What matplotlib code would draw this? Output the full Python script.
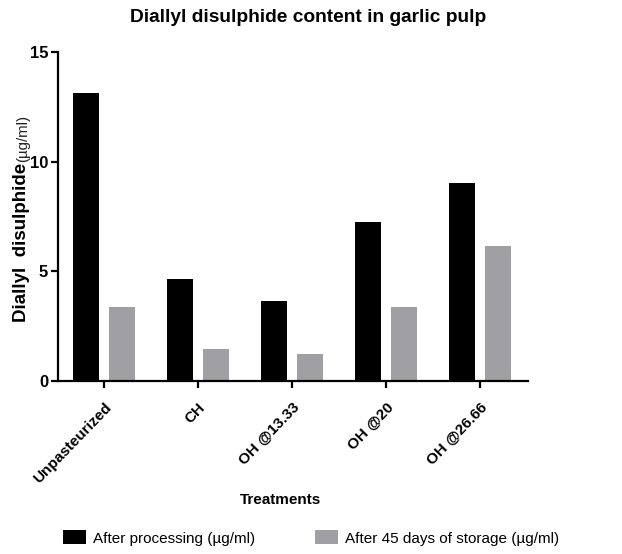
import matplotlib as mpl
import matplotlib.pyplot as plt
import numpy as np

mpl.use("Agg")
plt.rcParams["font.family"] = ["Liberation Sans", "DejaVu Sans"]

treatments = ["Unpasteurized", "CH", "OH @13.33", "OH @20", "OH @26.66"]
after_processing = [13.15, 4.65, 3.65, 7.25, 9.05]
after_storage = [3.38, 1.45, 1.22, 3.38, 6.15]
series_labels = ["After processing (\u00b5g/ml)", "After 45 days of storage (\u00b5g/ml)"]
yticks = [0, 5, 10, 15]

fig = plt.figure(figsize=(6.22, 5.54), dpi=100)
ax = fig.add_axes([58 / 622, 1 - 381 / 554, 470 / 622, 329 / 554])

x = np.arange(len(treatments))
w = 0.277
off = 0.19
b1 = ax.bar(x - off, after_processing, w, color="black", label=series_labels[0])
b2 = ax.bar(x + off, after_storage, w, color="#a0a0a4", label=series_labels[1])

ax.set_xlim(-0.49, 4.51)
ax.set_ylim(0, 15)
ax.set_yticks(yticks)
ax.set_xticks(x)
ax.set_xticklabels(treatments, rotation=46, ha="right", rotation_mode="anchor",
                   fontsize=11, fontweight="bold")
for t in ax.get_yticklabels():
    t.set_fontweight("bold")
    t.set_fontsize(12)
ax.tick_params(direction="out", length=5, width=1.6)
ax.tick_params(axis="x", pad=9)
ax.tick_params(axis="y", pad=2)
ax.spines["top"].set_visible(False)
ax.spines["right"].set_visible(False)
ax.spines["left"].set_linewidth(1.6)
ax.spines["bottom"].set_linewidth(1.6)

fig.text(280 / 622, 1 - 500 / 554, "Treatments", ha="center", va="center",
         fontsize=11, fontweight="bold")

fig.text(0.495, 1 - 18 / 554, "Diallyl disulphide content in garlic pulp",
         ha="center", va="center", fontsize=13.8, fontweight="bold")

# y label: bold name + normal units
t1 = fig.text(22 / 622, 1 - 322 / 554, "Diallyl  disulphide", rotation=90,
              ha="center", va="bottom", fontsize=13.5, fontweight="bold")
fig.canvas.draw()
bb = t1.get_window_extent()
fig.text(23 / 622, (bb.y1 + 1) / fig.bbox.height, "(\u00b5g/ml)", rotation=90,
         ha="center", va="bottom", fontsize=10.8, color="#222222")

fig.legend(handles=[b1, b2], loc="center", bbox_to_anchor=(0.5, 1 - 538 / 554),
           ncol=2, frameon=False, fontsize=11, handlelength=1.5, handleheight=1.0,
           columnspacing=3.9, handletextpad=0.45)

fig.savefig("out.png", dpi=100)
plt.close(fig)
